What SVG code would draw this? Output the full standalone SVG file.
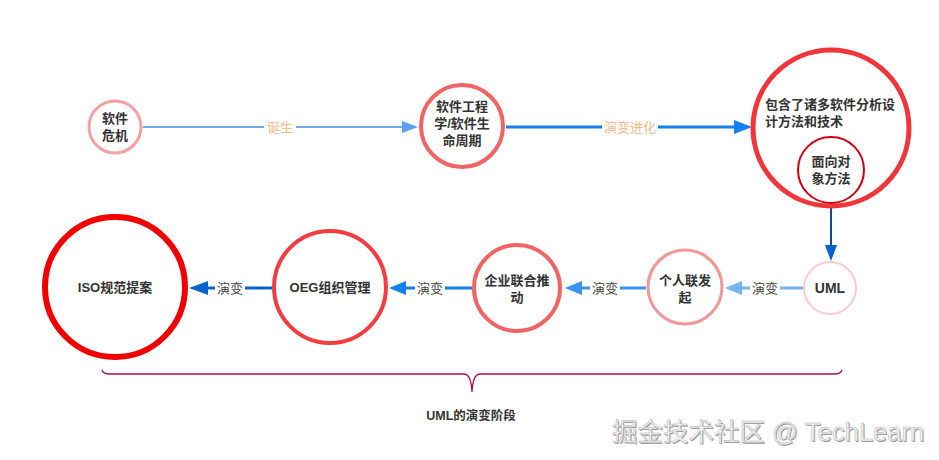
<svg xmlns="http://www.w3.org/2000/svg" width="939" height="460" viewBox="0 0 939 460">
<style>
.n{font-family:"Liberation Sans","Noto Sans CJK SC",sans-serif;font-weight:bold;font-size:13px;fill:#333;text-anchor:middle}
.el{font-family:"Liberation Sans","Noto Sans CJK SC",sans-serif;font-size:13px;fill:#444;text-anchor:middle}
.elo{font-family:"Liberation Sans","Noto Sans CJK SC",sans-serif;font-size:13px;fill:#f2b98a;text-anchor:middle}
.c{fill:#fff}
.wm{font-family:"Liberation Sans","Noto Sans CJK SC",sans-serif;font-size:25.5px}
</style>
<rect width="939" height="460" fill="#fff"/>
<g id="connectors">
<line x1="143" y1="127" x2="405" y2="127" stroke="#72a8e2" stroke-width="2"/>
<path d="M402,121 L418,127 L402,133 Z" fill="#5aa0f0"/>
<rect x="264" y="119" width="32" height="16" fill="#fff"/>
<text class="elo" x="280" y="132">诞生</text>
<line x1="506" y1="127" x2="738" y2="127" stroke="#1480f0" stroke-width="3"/>
<path d="M734,120 L752,127 L734,134 Z" fill="#1480f0"/>
<rect x="602" y="119" width="56" height="16" fill="#fff"/>
<text class="elo" x="630" y="132">演变进化</text>
<line x1="831" y1="208" x2="831" y2="248" stroke="#0c4aa0" stroke-width="2"/>
<path d="M825,245 L831,261 L837,245 Z" fill="#0060d0"/>
<line x1="803" y1="288" x2="738" y2="288" stroke="#74b4f4" stroke-width="3"/>
<path d="M742,281 L725,288 L742,295 Z" fill="#74b4f4"/>
<rect x="750" y="280" width="30" height="16" fill="#fff"/>
<text class="el" x="765" y="293">演变</text>
<line x1="646" y1="288" x2="578" y2="288" stroke="#3a92f0" stroke-width="3"/>
<path d="M582,281 L565,288 L582,295 Z" fill="#3a92f0"/>
<rect x="590" y="280" width="30" height="16" fill="#fff"/>
<text class="el" x="605" y="293">演变</text>
<line x1="472" y1="288" x2="402" y2="288" stroke="#1480f0" stroke-width="3"/>
<path d="M406,281 L389,288 L406,295 Z" fill="#1480f0"/>
<rect x="415" y="280" width="30" height="16" fill="#fff"/>
<text class="el" x="430" y="293">演变</text>
<line x1="272" y1="288" x2="204" y2="288" stroke="#0862cc" stroke-width="3"/>
<path d="M208,281 L189,288 L208,295 Z" fill="#0862cc"/>
<rect x="215" y="280" width="30" height="16" fill="#fff"/>
<text class="el" x="230" y="293">演变</text>
</g>
<g id="n1">
<circle class="c" cx="115" cy="127" r="26" stroke="#f5a0a4" stroke-width="3"/>
<text class="n" x="115" y="123">软件</text>
<text class="n" x="115" y="140">危机</text>
</g>
<g id="n2">
<circle class="c" cx="462" cy="126" r="41" stroke="#f06464" stroke-width="4"/>
<text class="n" x="462" y="111">软件工程</text>
<text class="n" x="462" y="128">学/软件生</text>
<text class="n" x="462" y="145">命周期</text>
</g>
<g id="n3">
<circle class="c" cx="831" cy="128" r="78" stroke="#f2353a" stroke-width="5"/>
<text class="n" x="765" y="109" style="text-anchor:start">包含了诸多软件分析设</text>
<text class="n" x="765" y="126" style="text-anchor:start">计方法和技术</text>
</g>
<g id="n4">
<circle class="c" cx="831" cy="170" r="33" stroke="#d00010" stroke-width="2"/>
<text class="n" x="831" y="166">面向对</text>
<text class="n" x="831" y="183">象方法</text>
</g>
<g id="n5">
<circle class="c" cx="830" cy="288" r="26" stroke="#f8cccc" stroke-width="2"/>
<text class="n" x="830" y="293" style="font-size:14px">UML</text>
</g>
<g id="n6">
<circle class="c" cx="685" cy="287" r="37" stroke="#f29698" stroke-width="3"/>
<text class="n" x="685" y="285">个人联发</text>
<text class="n" x="685" y="302">起</text>
</g>
<g id="n7">
<circle class="c" cx="517" cy="288" r="43" stroke="#f06464" stroke-width="4"/>
<text class="n" x="517" y="285">企业联合推</text>
<text class="n" x="517" y="302">动</text>
</g>
<g id="n8">
<circle class="c" cx="330" cy="287" r="56" stroke="#f23c40" stroke-width="4"/>
<text class="n" x="330" y="292">OEG组织管理</text>
</g>
<g id="n9">
<circle class="c" cx="115" cy="287" r="70" stroke="#f20000" stroke-width="6"/>
<text class="n" x="115" y="292">ISO规范提案</text>
</g>
<g id="brace">
<path d="M102,370 Q103,374 110,374 L464,374 Q471,374 472,392 Q473,374 480,374 L834,374 Q841,374 842,370" fill="none" stroke="#a8104e" stroke-width="1.3"/>
<text class="n" x="471" y="420" style="font-size:12.5px">UML的演变阶段</text>
</g>
<g id="watermark">
<text class="wm" x="612" y="441" fill="#999" transform="translate(1,1)">掘金技术社区 @ TechLearn</text>
<text class="wm" x="612" y="441" fill="#f4f4f4" stroke="#b0b0b0" stroke-width="0.5">掘金技术社区 @ TechLearn</text>
</g>
</svg>
